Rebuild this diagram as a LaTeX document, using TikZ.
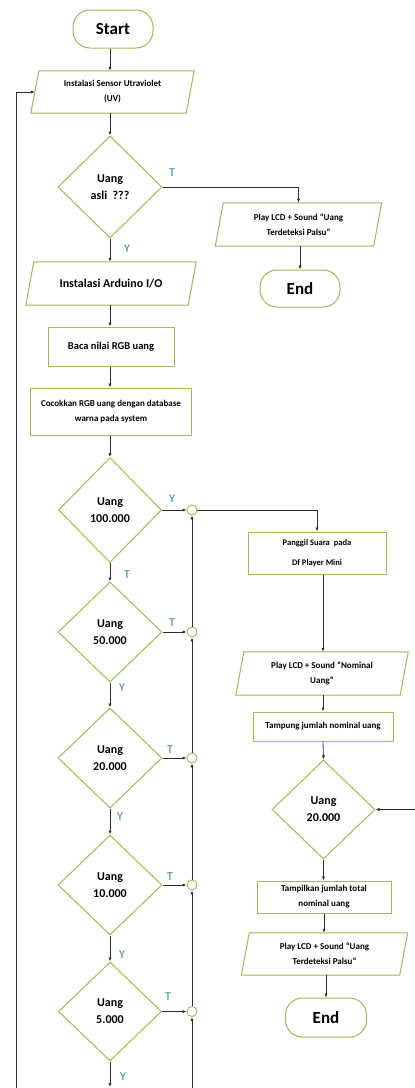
\documentclass[tikz,border=0pt]{standalone}
\usepackage{fontspec}
\setmainfont{Carlito}
\usetikzlibrary{shapes.geometric,arrows.meta,calc}
\definecolor{boxgreen}{RGB}{155,187,89}
\definecolor{lblteal}{RGB}{49,133,156}
\definecolor{linegray}{RGB}{45,45,45}
\newcommand{\paraframe}[2]{\draw[draw=boxgreen,line width=1pt] ([xshift=#2]#1.north west) -- ([xshift=#2]#1.north east) -- ([xshift=-#2]#1.south east) -- ([xshift=-#2]#1.south west) -- cycle;}
\begin{document}
\begin{tikzpicture}[x=1pt,y=-1pt,
  every node/.style={font=\bfseries, text=black},
  proc/.style={draw=boxgreen, line width=1pt, rectangle, inner sep=0pt, align=center},
  term/.style={draw=boxgreen, line width=1pt, rectangle, rounded corners=17pt, inner sep=0pt, font=\fontsize{17}{20}\selectfont\bfseries},
  dec/.style={draw=boxgreen, line width=1pt, diamond, inner sep=0pt, align=center, font=\fontsize{12}{17}\selectfont\bfseries},
  iobox/.style={rectangle, inner sep=0pt, align=center},
  junc/.style={draw=boxgreen, line width=0.9pt, circle, minimum size=10pt, inner sep=0pt, fill=white},
  arr/.style={draw=linegray, line width=0.8pt, -{Latex[length=4pt,width=3.2pt]}},
  lbl/.style={text=lblteal, font=\fontsize{12}{14}\selectfont},
  small/.style={font=\fontsize{9}{15}\selectfont\bfseries},
]
\fill[white] (0,0) rectangle (415,1088);
\useasboundingbox (0,0) rectangle (415,1088);

% left column
\node[term, minimum width=80pt, minimum height=38pt] (start) at (113,29) {Start};
\node[iobox, small, minimum width=155pt, minimum height=42pt] (p1) at (112.5,92) {Instalasi Sensor Utraviolet\\(UV)};
\paraframe{p1}{4pt}
\node[dec, minimum width=104pt, minimum height=102pt] (d1) at (110,187) {Uang\\asli\ \ ???};
\node[iobox, font=\fontsize{12}{15}\selectfont\bfseries, minimum width=162pt, minimum height=43pt] (p3) at (111,283.5) {Instalasi Arduino I/O};
\paraframe{p3}{4pt}
\node[proc, font=\fontsize{10.5}{13}\selectfont\bfseries, minimum width=126pt, minimum height=39pt] (r1) at (111,346.5) {Baca nilai RGB uang};
\node[proc, small, minimum width=161pt, minimum height=47pt] (r2) at (111,411.5) {Cocokkan RGB uang dengan database\\warna pada system};
\node[dec, minimum width=103pt, minimum height=105pt] (d2) at (110,510) {Uang\\100.000};
\node[dec, minimum width=104pt, minimum height=100pt] (d3) at (110,632) {Uang\\50.000};
\node[dec, minimum width=104pt, minimum height=100pt] (d4) at (110,758) {Uang\\20.000};
\node[dec, minimum width=104pt, minimum height=100pt] (d5) at (110,885) {Uang\\10.000};
\node[dec, minimum width=103pt, minimum height=99pt] (d6) at (110,1011.5) {Uang\\5.000};

% junctions
\node[junc] (c1) at (192,510) {};
\node[junc] (c2) at (192,632) {};
\node[junc] (c3) at (192,758) {};
\node[junc] (c4) at (192,885) {};
\node[junc] (c5) at (192,1011.5) {};

% right column, top
\node[iobox, small, minimum width=158pt, minimum height=43pt] (p2) at (298.5,224.5) {Play LCD + Sound “Uang\\Terdeteksi Palsu”};
\paraframe{p2}{4pt}
\node[term, minimum width=80pt, minimum height=37pt] (end1) at (300,288.5) {End};

% right column, bottom
\node[proc, font=\fontsize{8.5}{20}\selectfont\bfseries, minimum width=138pt, minimum height=42pt] (r3) at (317,553) {Panggil Suara\ \ pada\\Df Player Mini};
\node[iobox, small, minimum width=164pt, minimum height=43pt] (p4) at (322,673.5) {Play LCD + Sound “Nominal\\Uang”};
\paraframe{p4}{4pt}
\node[proc, small, minimum width=140pt, minimum height=29pt] (r4) at (323,726.5) {Tampung jumlah nominal uang};
\node[dec, minimum width=103pt, minimum height=99pt] (d7) at (323.5,809.5) {Uang\\20.000};
\node[proc, small, minimum width=134pt, minimum height=32pt] (r5) at (324,897) {Tampilkan jumlah total\\nominal uang};
\node[iobox, small, minimum width=158pt, minimum height=42pt] (p5) at (324.5,954) {Play LCD + Sound “Uang\\Terdeteksi Palsu”};
\paraframe{p5}{4pt}
\node[term, minimum width=81pt, minimum height=39pt] (end2) at (326,1017.5) {End};

% free ends
\coordinate (loopB) at (16,1088);
\coordinate (retB) at (192,1088);
\coordinate (d6end) at (110,1087);
\coordinate (rightIn) at (415,809.5);

% connectors
\draw[arr] (start.south -| d1.north) -- (p1.north -| d1.north);
\draw[arr] (p1.south -| d1.north) -- (d1.north);
\draw[arr] (d1.east) -| (p2.north);
\draw[arr] (p2.south -| end1.north) -- (end1.north);
\draw[arr] (d1.south) -- (d1.south |- p3.north);
\draw[arr] (p3.south -| d1.south) -- (r1.north -| d1.south);
\draw[arr] (r1.south -| d1.south) -- (r2.north -| d1.south);
\draw[arr] (r2.south -| d2.north) -- (d2.north);
\draw[arr] (d2.east) -- (c1.west);
\draw[arr] (c1.east) -| (r3.north);
\draw[arr] (d2.south) -- (d3.north);
\draw[arr] (d3.east) -- (c2.west);
\draw[arr] (d3.south) -- (d4.north);
\draw[arr] (d4.east) -- (c3.west);
\draw[arr] (d4.south) -- (d5.north);
\draw[arr] (d5.east) -- (c4.west);
\draw[arr] (d5.south) -- (d6.north);
\draw[arr] (d6.east) -- (c5.west);
\draw[arr] (d6.south) -- (d6end);
\draw[arr] (retB) -- (c5.south);
\draw[arr] (c5.north) -- (c4.south);
\draw[arr] (c4.north) -- (c3.south);
\draw[arr] (c3.north) -- (c2.south);
\draw[arr] (c2.north) -- (c1.south);
\draw[arr] (loopB) |- (p1.west);
\draw[arr] (r3.south -| r4.north) -- (p4.north -| r4.north);
\draw[arr] (p4.south -| r4.north) -- (r4.north);
\draw[arr] (r4.south) -- (d7.north);
\draw[arr] (d7.south) -- (d7.south |- r5.north);
\draw[arr] (r5.south) -- (r5.south |- p5.north);
\draw[arr] (p5.south -| end2.north) -- (end2.north);
\draw[arr] (rightIn) -- (d7.east);

% labels
\node[lbl] (t1) at (172,173) {T};
\node[lbl] (y1) at (127,249) {Y};
\node[lbl] (y2) at (172,499) {Y};
\node[lbl] (t2) at (127,575) {T};
\node[lbl] (t3) at (172,623) {T};
\node[lbl] (y3) at (122,688) {Y};
\node[lbl] (t4) at (170,750) {T};
\node[lbl] (y4) at (120,817) {Y};
\node[lbl] (t5) at (170,877) {T};
\node[lbl] (y5) at (122,955) {Y};
\node[lbl] (t6) at (168,997) {T};
\node[lbl] (y6) at (123,1077) {Y};
\end{tikzpicture}
\end{document}
